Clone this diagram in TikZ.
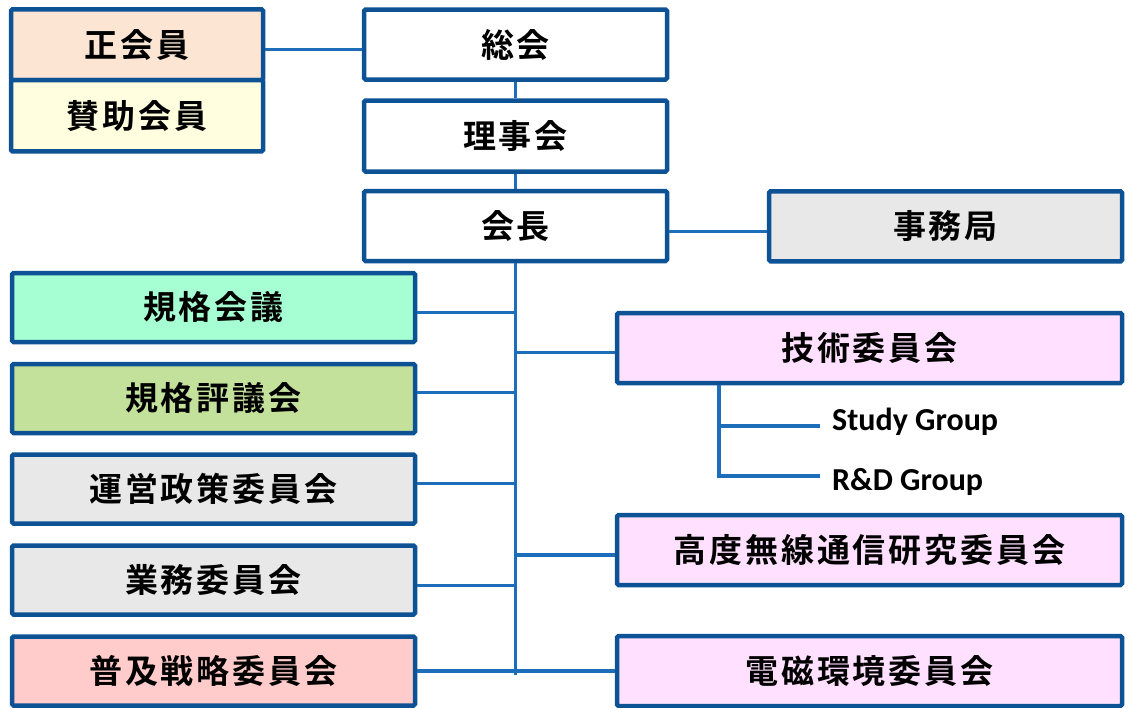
\documentclass[tikz,border=0pt]{standalone}
\usepackage{fontspec}
\newfontfamily\jp[LetterSpace=9]{Noto Sans CJK JP Bold}
\newfontfamily\en{Carlito}
\definecolor{bordc}{HTML}{0E5296}
\definecolor{connc}{HTML}{1C6EBA}
\definecolor{cseikai}{HTML}{FDE5D3}
\definecolor{csanjo}{HTML}{FFFFE0}
\definecolor{cgray}{HTML}{E8E8E8}
\definecolor{cmint}{HTML}{A6FFD2}
\definecolor{cgreen}{HTML}{C3E19B}
\definecolor{crose}{HTML}{FFCCCB}
\definecolor{cpink}{HTML}{FFE1FF}
\tikzset{
  box/.style={draw=bordc, line width=4.5pt, rounded corners=1.5pt, inner sep=0pt,
    font=\jp\fontsize{33}{33}\selectfont, text=black},
  topbox/.style={box, fill=white, minimum width=303pt, minimum height=70pt},
  leftbox/.style={box, minimum width=403pt, minimum height=69pt},
  rightbox/.style={box, fill=cpink, minimum width=505pt, minimum height=70pt},
  conn/.style={draw=connc, line width=3.2pt},
  grp/.style={font=\en\bfseries\fontsize{32}{32}\selectfont, anchor=base west, inner sep=0pt}
}
\begin{document}
\begin{tikzpicture}[x=1pt,y=-1pt]
\useasboundingbox (0,0) rectangle (1129,707);
% top-left members
\node[box, fill=cseikai, minimum width=252pt, minimum height=70.7pt] (seikai) at (137,44.7) {正会員};
\node[box, fill=csanjo, minimum width=252pt, minimum height=71.3pt] (sanjo) at (137,115.7) {賛助会員};
% central column
\node[topbox] (sokai) at (515.5,44.5) {総会};
\node[topbox, minimum height=71pt] (riji) at (515.5,136) {理事会};
\node[topbox] (kaicho) at (515.5,226) {会長};
\node[box, fill=cgray, minimum width=353pt, minimum height=70pt] (jimu) at (945.5,226.3) {事務局};
% left column
\node[leftbox, fill=cmint] (k1) at (213.5,307.5) {規格会議};
\node[leftbox, fill=cgreen] (k2) at (213.5,398.5) {規格評議会};
\node[leftbox, fill=cgray] (k3) at (213.5,489) {運営政策委員会};
\node[leftbox, fill=cgray] (k4) at (213.5,580) {業務委員会};
\node[leftbox, fill=crose] (k5) at (213.5,671) {普及戦略委員会};
% right column
\node[rightbox] (gijutsu) at (869.5,348) {技術委員会};
\node[rightbox] (kodo) at (869.5,550) {高度無線通信研究委員会};
\node[rightbox] (denji) at (869.5,671) {電磁環境委員会};
% groups
\node[grp] (sg) at (832,430) {Study Group};
\node[grp] (rd) at (832,490) {R\&D Group};
\coordinate (tb) at (516,675);
\coordinate (subX) at (719,0);
\coordinate (sgEnd) at (820,426);
\coordinate (rdEnd) at (820,476);
% connectors
\draw[conn] ([yshift=-5pt]seikai.east) -- ([yshift=-5pt]seikai.east -| sokai.west);
\draw[conn] (sokai.south) -- (riji.north);
\draw[conn] (riji.south) -- (kaicho.north);
\draw[conn] ([yshift=-5.5pt]kaicho.east) -- ([yshift=-5.5pt]kaicho.east -| jimu.west);
\draw[conn] (kaicho.south) -- (kaicho.south |- tb);
\draw[conn] ([yshift=-4.8pt]k1.east) -- ([yshift=-4.8pt]k1.east -| kaicho.south);
\draw[conn] ([yshift=5.8pt]k2.east) -- ([yshift=5.8pt]k2.east -| kaicho.south);
\draw[conn] ([yshift=5.7pt]k3.east) -- ([yshift=5.7pt]k3.east -| kaicho.south);
\draw[conn] ([yshift=-5.3pt]k4.east) -- ([yshift=-5.3pt]k4.east -| kaicho.south);
\draw[conn] (k5.east) -- (k5.east -| kaicho.south);
\draw[conn] ([yshift=-4.7pt]gijutsu.west) -- ([yshift=-4.7pt]gijutsu.west -| kaicho.south);
\draw[conn] ([yshift=-5pt]kodo.west) -- ([yshift=-5pt]kodo.west -| kaicho.south);
\draw[conn] (denji.west) -- (denji.west -| kaicho.south);
\draw[conn] (gijutsu.south -| subX) |- (rdEnd);
\draw[conn] (subX |- sgEnd) -- (sgEnd);
\end{tikzpicture}
\end{document}
